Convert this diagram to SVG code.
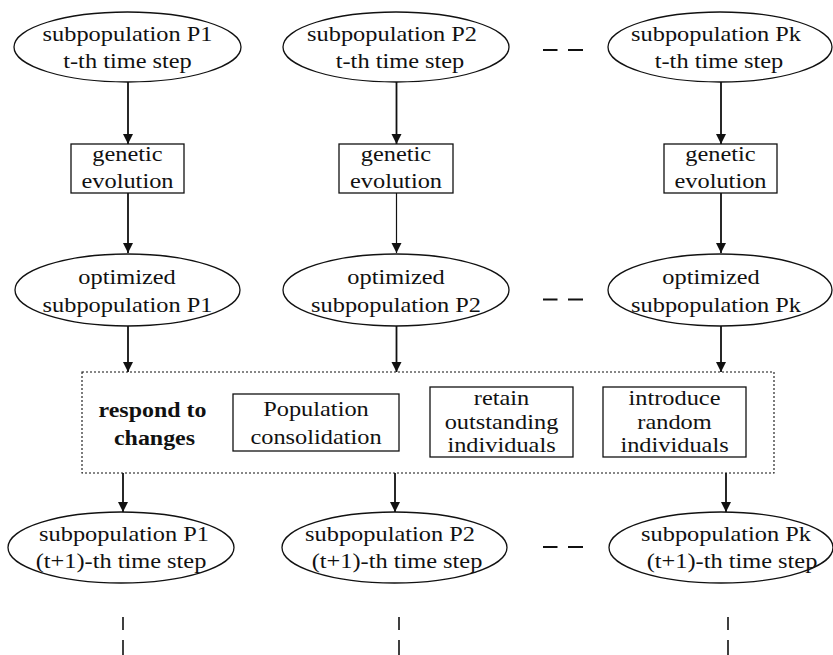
<svg xmlns="http://www.w3.org/2000/svg" width="833" height="655" viewBox="0 0 833 655">
  <defs>
    <marker id="arrow" markerUnits="userSpaceOnUse" markerWidth="11" markerHeight="11" refX="10" refY="5" orient="auto">
      <path d="M0,0 L10,5 L0,10 z" fill="#111"/>
    </marker>
  </defs>
  <style>
    .node { fill: #fff; stroke: #111; stroke-width: 1.3; }
    .t { font-family: "Liberation Serif", "Times New Roman", serif; font-size: 21px; fill: #111; text-anchor: middle; }
    .b { font-weight: bold; }
    .conn { stroke: #111; stroke-width: 1.8; fill: none; marker-end: url(#arrow); }
    .thin { stroke-width: 1.2; }
    .dots { fill: none; stroke: #111; stroke-width: 1.1; stroke-dasharray: 2 2; }
    .ell { stroke: #111; stroke-width: 2; fill: none; }
    .vdash { stroke: #111; stroke-width: 1.6; fill: none; }
  </style>

  <rect width="833" height="655" fill="#fff"/>

  <!-- row 1: subpopulations at time t -->
  <g id="p1-t">
    <ellipse class="node" cx="127.5" cy="47" rx="113.5" ry="35"/>
    <text class="t" transform="translate(127.5 41) scale(1.16 1)">subpopulation P1</text>
    <text class="t" transform="translate(127.5 68) scale(1.16 1)">t-th time step</text>
  </g>
  <g id="p2-t">
    <ellipse class="node" cx="396" cy="47" rx="113" ry="35"/>
    <text class="t" transform="translate(392 41) scale(1.16 1)">subpopulation P2</text>
    <text class="t" transform="translate(400 68) scale(1.16 1)">t-th time step</text>
  </g>
  <g id="pk-t">
    <ellipse class="node" cx="720" cy="47" rx="112" ry="35"/>
    <text class="t" transform="translate(716 41) scale(1.16 1)">subpopulation Pk</text>
    <text class="t" transform="translate(719 68) scale(1.16 1)">t-th time step</text>
  </g>

  <!-- row 2: genetic evolution -->
  <g id="ga-1">
    <rect class="node" x="71" y="144" width="113" height="49"/>
    <text class="t" transform="translate(127.5 161) scale(1.16 1)">genetic</text>
    <text class="t" transform="translate(127.5 187.5) scale(1.16 1)">evolution</text>
  </g>
  <g id="ga-2">
    <rect class="node" x="339" y="144" width="114" height="49"/>
    <text class="t" transform="translate(396 161) scale(1.16 1)">genetic</text>
    <text class="t" transform="translate(396 187.5) scale(1.16 1)">evolution</text>
  </g>
  <g id="ga-k">
    <rect class="node" x="664" y="144" width="113" height="49"/>
    <text class="t" transform="translate(720.5 161) scale(1.16 1)">genetic</text>
    <text class="t" transform="translate(720.5 187.5) scale(1.16 1)">evolution</text>
  </g>

  <!-- row 3: optimized subpopulations -->
  <g id="opt-1">
    <ellipse class="node" cx="127.5" cy="290" rx="112.5" ry="36"/>
    <text class="t" transform="translate(127 283.5) scale(1.16 1)">optimized</text>
    <text class="t" transform="translate(127.5 311.5) scale(1.16 1)">subpopulation P1</text>
  </g>
  <g id="opt-2">
    <ellipse class="node" cx="396" cy="290" rx="113" ry="36"/>
    <text class="t" transform="translate(396 283.5) scale(1.16 1)">optimized</text>
    <text class="t" transform="translate(396 311.5) scale(1.16 1)">subpopulation P2</text>
  </g>
  <g id="opt-k">
    <ellipse class="node" cx="720" cy="290" rx="112" ry="36"/>
    <text class="t" transform="translate(711 283.5) scale(1.16 1)">optimized</text>
    <text class="t" transform="translate(716 311.5) scale(1.16 1)">subpopulation Pk</text>
  </g>

  <!-- change response stage -->
  <g id="respond">
    <rect class="dots" x="82" y="372" width="692" height="101"/>
    <text class="t b" transform="translate(152.5 416.5) scale(1.14 1)">respond to</text>
    <text class="t b" transform="translate(154.5 445) scale(1.14 1)">changes</text>
  </g>
  <g id="consolidation">
    <rect class="node" x="233" y="394" width="166" height="57"/>
    <text class="t" transform="translate(316 415.5) scale(1.16 1)">Population</text>
    <text class="t" transform="translate(316 444) scale(1.16 1)">consolidation</text>
  </g>
  <g id="retain">
    <rect class="node" x="430" y="387" width="143" height="70"/>
    <text class="t" transform="translate(501.5 405) scale(1.16 1)">retain</text>
    <text class="t" transform="translate(501.5 428.5) scale(1.16 1)">outstanding</text>
    <text class="t" transform="translate(501.5 452) scale(1.16 1)">individuals</text>
  </g>
  <g id="introduce">
    <rect class="node" x="603" y="387" width="143" height="70"/>
    <text class="t" transform="translate(674.5 405) scale(1.16 1)">introduce</text>
    <text class="t" transform="translate(674.5 428.5) scale(1.16 1)">random</text>
    <text class="t" transform="translate(674.5 452) scale(1.16 1)">individuals</text>
  </g>

  <!-- row 4: subpopulations at time t+1 -->
  <g id="p1-t1">
    <ellipse class="node" cx="121" cy="547.5" rx="113" ry="35.5"/>
    <text class="t" transform="translate(124 540.5) scale(1.16 1)">subpopulation P1</text>
    <text class="t" transform="translate(121 568) scale(1.16 1)">(t+1)-th time step</text>
  </g>
  <g id="p2-t1">
    <ellipse class="node" cx="394.5" cy="547.5" rx="112.5" ry="35.5"/>
    <text class="t" transform="translate(390 540.5) scale(1.16 1)">subpopulation P2</text>
    <text class="t" transform="translate(397 568) scale(1.16 1)">(t+1)-th time step</text>
  </g>
  <g id="pk-t1">
    <ellipse class="node" cx="721" cy="547.5" rx="112" ry="35.5"/>
    <text class="t" transform="translate(726 540.5) scale(1.16 1)">subpopulation Pk</text>
    <text class="t" transform="translate(732 568) scale(1.16 1)">(t+1)-th time step</text>
  </g>

  <!-- connectors -->
  <g id="connectors">
    <line class="conn" x1="128" y1="82" x2="128" y2="144"/>
    <line class="conn" x1="396.5" y1="82" x2="396.5" y2="144"/>
    <line class="conn" x1="721" y1="82" x2="721" y2="144"/>

    <line class="conn" x1="128" y1="193" x2="128" y2="253"/>
    <line class="conn thin" x1="396.5" y1="193" x2="396.5" y2="253"/>
    <line class="conn" x1="721" y1="193" x2="721" y2="253"/>

    <line class="conn" x1="128" y1="326" x2="128" y2="372"/>
    <line class="conn" x1="396.5" y1="326" x2="396.5" y2="372"/>
    <line class="conn" x1="721" y1="326" x2="721" y2="372"/>

    <line class="conn" x1="123" y1="473" x2="123" y2="512"/>
    <line class="conn" x1="395" y1="473" x2="395" y2="512"/>
    <line class="conn" x1="726" y1="473" x2="726" y2="512"/>
  </g>

  <!-- ellipsis marks between columns and below -->
  <g id="ellipses">
    <path class="ell" d="M543,50 H557.5 M568,50 H583"/>
    <path class="ell" d="M543,299.5 H557.5 M568,299.5 H583"/>
    <path class="ell" d="M543,547 H557.5 M568,547 H583"/>
    <path class="vdash" d="M123,617 V630 M123,640 V655"/>
    <path class="vdash" d="M399,617 V630 M399,640 V655"/>
    <path class="vdash" d="M728,617 V630 M728,640 V655"/>
  </g>
</svg>
